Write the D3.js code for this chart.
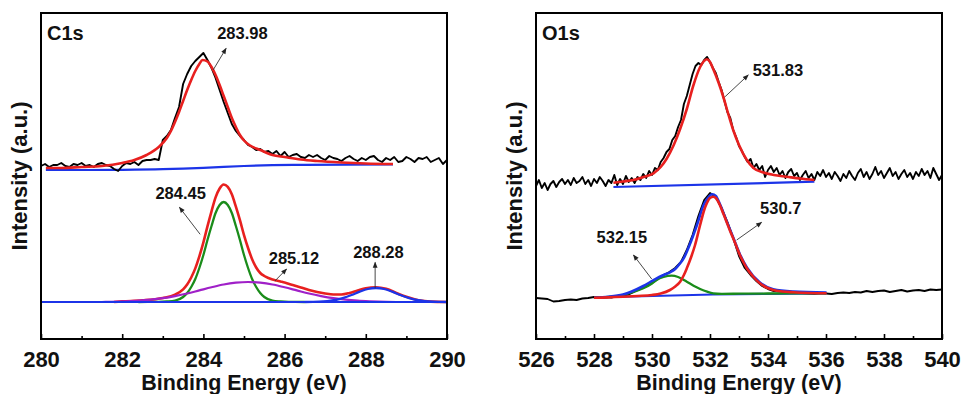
<!DOCTYPE html>
<html>
<head>
<meta charset="utf-8">
<script src="https://cdn.jsdelivr.net/npm/d3@7"></script>
<style>
body { margin: 0; background: #fff; }
text { font-family: "Liberation Sans", Arial, sans-serif; font-weight: bold; fill: #111; }
</style>
</head>
<body>
<svg id="chart" width="963" height="394"></svg>
<script>
// ---- C1s, upper trace: raw spectrum sampled every 0.1 eV from 280.0 eV (a.u.)
var c1sRawStart = 280, c1sRawStep = 0.1;
var c1sRaw = [
  173,175,172,174,174,176,173,172,175,174,
  176,173,174,172,175,176,174,173,170,168,
  173,176,175,177,174,178,179,179,180,179,
  199,203,209,221,232,255,265,273,278,282,
  286,279,271,261,249,237,226,215,208,203,
  199,194,192,189,190,187,188,185,188,183,
  187,182,184,185,182,181,184,182,184,181,
  179,183,181,180,178,181,183,180,178,181,
  179,182,183,179,177,181,179,182,177,178,
  182,180,177,181,180,182,177,179,181,175,
  179];
// fitted envelope and background of the upper trace  [eV, a.u.]
var c1sFit = [[280.12,171],[280.5,171],[281.0,172],[281.5,173],[282.0,176],[282.3,179],[282.6,184],
  [282.9,192],[283.1,201],[283.2,208],[283.3,217],[283.4,227],[283.5,238],[283.6,249],[283.7,259],
  [283.8,268],[283.9,275],[283.98,279],[284.1,277.5],[284.2,272],[284.3,264],[284.4,254],[284.5,243],
  [284.6,232],[284.7,221],[284.8,212],[284.9,204],[285.0,198.5],[285.15,193.5],[285.4,189],[285.7,184],
  [286.0,182],[286.4,179.5],[286.8,178],[287.4,176.5],[288.0,175.5],[288.67,175]];
var c1sBg = [[280.12,169],[281,169],[282,169.2],[283,169.8],[284,171.2],[284.5,172.2],[285,173],
  [285.7,173.8],[286.5,174.2],[288.67,174.7]];

// ---- C1s, lower trace: deconvoluted components
var c1sBase = [[280,37],[290,37]];
var c1sPeak284 = [[282.4,37],[282.9,37.1],[283.1,37.5],[283.3,38.4],[283.5,42],[283.6,46],[283.7,52],
  [283.8,60],[283.9,71],[284.0,84],[284.1,99],[284.2,113],[284.3,126],[284.4,134],[284.5,137],
  [284.6,134],[284.7,126],[284.8,113],[284.9,99],[285.0,84],[285.1,71],[285.2,60],[285.3,52],
  [285.4,46],[285.5,42],[285.7,38.4],[285.9,37.5],[286.1,37.1],[286.5,37]];
var c1sPeak285 = [[281.5,37],[281.7,37.2],[282.1,37.7],[282.4,38.3],[282.7,39.3],[283.0,40.8],
  [283.3,42.9],[283.6,45.5],[283.9,48.6],[284.2,51.7],[284.5,54.5],[284.8,56.3],[285.1,57],
  [285.4,56.3],[285.7,54.5],[286.0,51.7],[286.3,48.6],[286.6,45.5],[286.9,42.9],[287.2,40.8],
  [287.5,39.3],[287.8,38.3],[288.1,37.7],[288.5,37.2],[289.0,37],[290,37]];
var c1sPeak288 = [[286.5,37],[286.85,37.3],[287.05,37.9],[287.25,39],[287.45,41.1],[287.65,44],
  [287.85,47.3],[288.05,50],[288.25,51],[288.45,50],[288.65,47.3],[288.85,44],[289.05,41.1],
  [289.25,39],[289.45,37.9],[289.65,37.3],[290,37]];
var c1sEnvelope = [[281.8,37],[282.0,37.6],[282.5,38.6],[283.0,41],[283.3,44.3],[283.5,49.7],
  [283.6,54.5],[283.7,61.5],[283.8,70.6],[283.9,82.6],[284.0,96.6],[284.1,112.6],[284.2,127.7],
  [284.3,141.6],[284.4,150.5],[284.5,154.5],[284.6,152.1],[284.7,144.7],[284.8,132.3],[284.9,118.8],
  [285.0,103.9],[285.1,91],[285.2,79.8],[285.3,71.5],[285.4,66],[285.5,63],[285.6,61],[285.7,59.5],
  [285.8,58.5],[285.9,57.5],[286.0,56.5],[286.2,54],[286.4,51.5],[286.6,49],[286.8,47],[287.0,45.5],
  [287.2,44.5],[287.4,44.5],[287.6,46],[287.8,48.5],[288.0,50.8],[288.25,51.7],[288.5,50.2],
  [288.8,45.2],[289.0,42.2],[289.3,38.8],[289.6,37.4],[290,37]];

// ---- O1s, upper trace: raw spectrum every 0.1 eV from 526.0 eV
var o1sRawStart = 526, o1sRawStep = 0.1;
var o1sRaw = [
  153,159,151,156,149,155,158,152,157,160,
  155,159,154,161,156,158,162,155,159,153,
  160,156,162,158,153,159,156,164,154,160,
  155,163,157,161,156,162,159,165,161,168,
  164,171,169,177,181,187,190,199,203,212,
  219,235,243,254,265,273,276,274,279,282,
  277,271,266,257,249,238,227,221,209,202,
  193,188,182,177,180,171,175,169,173,162,
  169,173,167,171,164,168,161,167,170,163,
  166,159,164,168,161,165,159,167,163,169,
  162,166,160,167,163,158,165,161,168,163,
  159,166,170,162,167,160,165,172,164,168,
  161,166,171,163,167,160,165,169,162,166,
  160,167,163,170,164,168,161,171,165,159,
  164];
var o1sFit = [[528.67,156.3],[529.0,157.5],[529.36,159],[529.7,162],[530.05,165.7],[530.3,172],
  [530.5,180],[530.75,194],[530.97,210],[531.2,230],[531.42,253],[531.66,272],[531.78,277.5],
  [531.89,279.7],[532.0,277],[532.11,270],[532.3,256],[532.46,242],[532.63,225],[532.8,209],
  [533.0,194],[533.27,179],[533.5,171],[533.84,166.5],[534.2,164],[534.64,162.3],[535.1,160.5],
  [535.6,159]];
var o1sBg = [[528.67,152],[535.6,157.3]];

// ---- O1s, lower trace: raw spectrum every 0.2 eV from 526.0 eV and components
var o1sRaw2Start = 526, o1sRaw2Step = 0.2;
var o1sRaw2 = [
  41,40.5,40,37.5,38,39,39.5,39,40.5,41,
  42,41,42,41.5,43,43.5,44.5,47.5,50,52.5,
  56,60,64,67,71,77,89,104,123,139,
  146,142,131,117,101,83,71,64,58,53,
  50,48,47.5,47,46,46.5,46,45.5,45,46,
  45.5,45,46,46.5,46,47,46.5,48,47,48,
  48.5,47,48,49,47.5,48.5,49,48,49.5,49,
  49.5];
var o1sBase2 = [[528,41.5],[532.1,44.5],[536,45.7]];
var o1sPeak530 = [[528.0,41.3],[528.5,42],[529.0,44],[529.3,46.5],[529.7,50.7],[530.0,55.5],
  [530.16,59],[530.4,62],[530.68,63.3],[530.9,62],[531.2,57.3],[531.45,53],[531.66,50],
  [531.9,47.3],[532.11,45.7],[532.4,45.2],[533.0,45.3],[534.0,45.5],[535.0,45.7],[536.0,45.7]];
var o1sPeak532 = [[528.0,41.3],[528.5,41.6],[529.0,42.2],[529.5,43],[530.0,44],[530.3,45.5],
  [530.62,49],[530.8,52.5],[530.97,57.3],[531.1,64],[531.2,70.7],[531.35,82],[531.48,93.5],
  [531.66,114],[531.8,129],[531.89,135.7],[532.0,141],[532.11,142.3],[532.2,141],[532.34,134],
  [532.45,126],[532.57,117.3],[532.68,109],[532.8,100.7],[532.92,92],[533.03,84],[533.15,77],
  [533.27,70.7],[533.5,62],[533.72,55.7],[533.95,51.5],[534.18,49],[534.5,47.5],[534.87,46.7],
  [535.4,46],[536.02,45.7]];
var o1sEnvelope = [[528.0,41.3],[528.5,42.2],[529.0,44.5],[529.3,47.5],[529.7,53],[530.0,58],
  [530.16,60.7],[530.4,64],[530.62,66.7],[530.8,70],[530.97,75.7],[531.1,81],[531.2,87.3],
  [531.35,98],[531.55,114],[531.78,134],[531.9,140],[532.08,144.7],[532.2,143],[532.34,135],
  [532.57,118],[532.8,101.5],[533.03,84.8],[533.27,71.5],[533.72,56.5],[534.18,49.8],
  [534.87,47.5],[536.02,46.5]];

// ---- axes
var c1sTicks = [280, 282, 284, 286, 288, 290];
var c1sMinor = [281, 283, 285, 287, 289];
var o1sTicks = [526, 528, 530, 532, 534, 536, 538, 540];
var o1sMinor = [527, 529, 531, 533, 535, 537, 539];

// ---- peak labels: text anchor and arrow (tail -> head), in eV / a.u.
var c1sNotes = [
  {label: "283.98", tx: 284.96, ty: 300, x1: 284.24, y1: 269, x2: 284.56, y2: 290.7},
  {label: "284.45", tx: 283.44, ty: 140, x1: 283.92, y1: 104.7, x2: 283.41, y2: 131.7},
  {label: "285.12", tx: 286.23, ty: 75, x1: 285.76, y1: 58, x2: 286.05, y2: 70},
  {label: "288.28", tx: 288.31, ty: 81.5, x1: 288.23, y1: 50.7, x2: 288.23, y2: 76.7}
];
var o1sNotes = [
  {label: "531.83", tx: 534.34, ty: 263, x1: 532.52, y1: 242.3, x2: 533.32, y2: 264},
  {label: "530.7", tx: 534.44, ty: 124.8, x1: 532.92, y1: 99, x2: 533.78, y2: 116.7},
  {label: "532.15", tx: 528.96, ty: 96.4, x1: 529.99, y1: 60, x2: 529.36, y2: 84}
];

var RED = "#e8201f", GREEN = "#1a8c1a", PURPLE = "#a020c8", BLUE = "#1c34e8", BLACK = "#000";

function rawPairs(vals, start, step) {
  return vals.map(function(v, i) { return [start + i * step, v]; });
}

var svg = d3.select("#chart");
var plotTop = 13, plotBottom = 339;

svg.append("defs").append("marker")
  .attr("id", "arrow")
  .attr("viewBox", "0 0 10 10")
  .attr("refX", 9).attr("refY", 5)
  .attr("markerWidth", 7).attr("markerHeight", 6)
  .attr("markerUnits", "userSpaceOnUse")
  .attr("orient", "auto")
  .append("path").attr("d", "M0,1L10,5L0,9z").attr("fill", "#222");

function drawPanel(p) {
  var x = d3.scaleLinear().domain(p.domain).range([p.left, p.right]);
  var y = d3.scaleLinear().domain([0, 326]).range([plotBottom, plotTop]);
  var g = svg.append("g");

  var jagged = d3.line().x(function(d) { return x(d[0]); }).y(function(d) { return y(d[1]); });
  var smooth = d3.line().x(function(d) { return x(d[0]); }).y(function(d) { return y(d[1]); })
    .curve(d3.curveMonotoneX);

  p.series.forEach(function(s) {
    g.append("path")
      .datum(s.data)
      .attr("d", s.raw ? jagged : smooth)
      .attr("fill", "none")
      .attr("stroke", s.color)
      .attr("stroke-width", s.width)
      .attr("stroke-linejoin", "round");
  });

  p.notes.forEach(function(n) {
    g.append("line")
      .attr("x1", x(n.x1)).attr("y1", y(n.y1))
      .attr("x2", x(n.x2)).attr("y2", y(n.y2))
      .attr("stroke", "#333").attr("stroke-width", 0.9)
      .attr("marker-end", "url(#arrow)");
    g.append("text")
      .attr("x", x(n.tx)).attr("y", y(n.ty))
      .attr("text-anchor", "middle")
      .attr("font-size", 16.5)
      .text(n.label);
  });

  g.append("rect")
    .attr("x", p.left).attr("y", plotTop)
    .attr("width", p.right - p.left).attr("height", plotBottom - plotTop)
    .attr("fill", "none").attr("stroke", "#000").attr("stroke-width", 2);

  var major = g.append("g")
    .attr("transform", "translate(0," + plotBottom + ")")
    .call(d3.axisBottom(x).tickValues(p.ticks).tickSize(-5).tickPadding(12).tickFormat(d3.format("d")));
  major.select(".domain").remove();
  major.selectAll("line").attr("stroke-width", 1.6);
  major.selectAll("text").attr("font-size", 22).attr("fill", "#111");

  var minor = g.append("g")
    .attr("transform", "translate(0," + plotBottom + ")")
    .call(d3.axisBottom(x).tickValues(p.minor).tickSize(-3).tickFormat(""));
  minor.select(".domain").remove();
  minor.selectAll("line").attr("stroke-width", 1.6);

  g.append("text")
    .attr("x", (p.left + p.right) / 2).attr("y", 389.5)
    .attr("text-anchor", "middle").attr("font-size", 21.5)
    .text("Binding Energy (eV)");

  g.append("text")
    .attr("transform", "translate(" + p.yTitleX + "," + (plotTop + plotBottom) / 2 + ") rotate(-90)")
    .attr("text-anchor", "middle").attr("font-size", 22)
    .text("Intensity (a.u.)");

  g.append("text")
    .attr("x", p.left + 6).attr("y", 40)
    .attr("font-size", 20)
    .text(p.name);
}

drawPanel({
  name: "C1s", domain: [280, 290], left: 41, right: 447, yTitleX: 27,
  ticks: c1sTicks, minor: c1sMinor, notes: c1sNotes,
  series: [
    {data: c1sBg, color: BLUE, width: 2.2},
    {data: rawPairs(c1sRaw, c1sRawStart, c1sRawStep), color: BLACK, width: 1.9, raw: true},
    {data: c1sFit, color: RED, width: 2.6},
    {data: c1sEnvelope, color: RED, width: 2.6},
    {data: c1sPeak284, color: GREEN, width: 2.3},
    {data: c1sPeak285, color: PURPLE, width: 2.2},
    {data: c1sPeak288, color: BLUE, width: 2.3},
    {data: c1sBase, color: BLUE, width: 2.2}
  ]
});

drawPanel({
  name: "O1s", domain: [526, 540], left: 536, right: 942, yTitleX: 522,
  ticks: o1sTicks, minor: o1sMinor, notes: o1sNotes,
  series: [
    {data: o1sBg, color: BLUE, width: 2.2},
    {data: rawPairs(o1sRaw, o1sRawStart, o1sRawStep), color: BLACK, width: 1.9, raw: true},
    {data: o1sFit, color: RED, width: 2.6},
    {data: rawPairs(o1sRaw2, o1sRaw2Start, o1sRaw2Step), color: BLACK, width: 1.9, raw: true},
    {data: o1sBase2, color: BLUE, width: 2.2},
    {data: o1sPeak530, color: GREEN, width: 2.3},
    {data: o1sEnvelope, color: BLUE, width: 2.6},
    {data: o1sPeak532, color: RED, width: 2.6}
  ]
});
</script>
</body>
</html>
